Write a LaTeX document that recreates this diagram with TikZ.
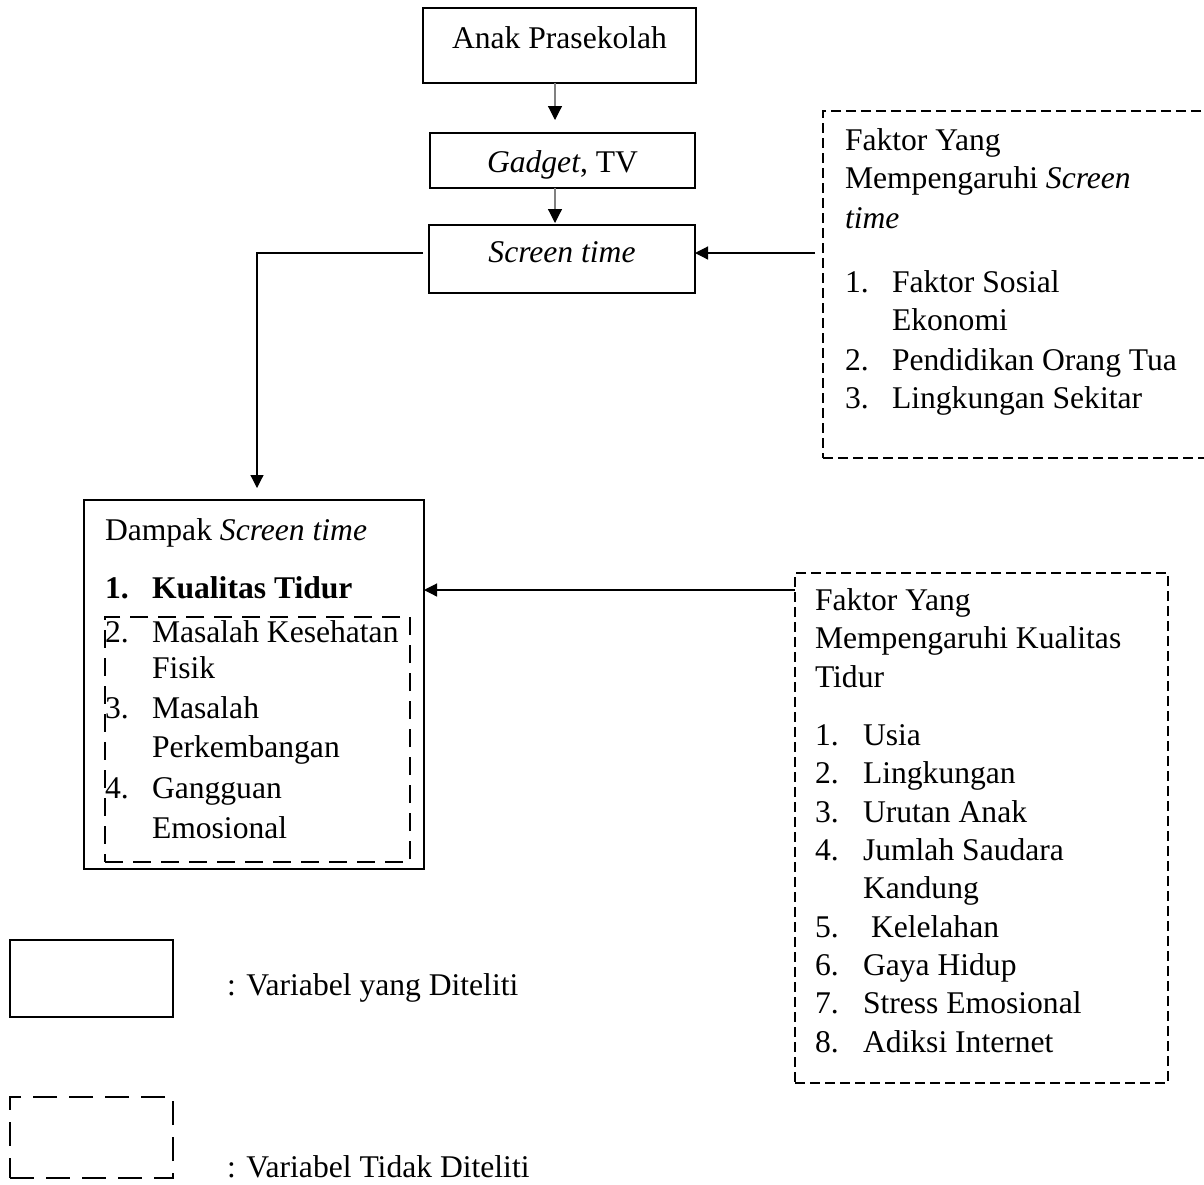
\documentclass[tikz,border=0pt]{standalone}
\usepackage{fontspec}
\setmainfont{Liberation Serif}
\usetikzlibrary{arrows.meta}
\begin{document}
\begin{tikzpicture}[x=0.5pt,y=-0.5pt,
  every node/.style={font=\fontsize{15.8pt}{19pt}\selectfont, inner sep=0pt, outer sep=0pt},
  solidbox/.style={draw=black, line width=0.75pt, rectangle},
  thindash/.style={draw=black, line width=0.55pt, dash pattern=on 5pt off 2.5pt, rectangle},
  thickdash/.style={draw=black, line width=1.25pt, dash pattern=on 9pt off 5pt, rectangle},
  legdash/.style={draw=black, line width=1.1pt, dash pattern=on 12pt off 6pt, rectangle},
  txt/.style={anchor=base west},
  ctxt/.style={anchor=base},
  tip/.style={-{Triangle[length=7pt,width=7pt]}},
  grayarrow/.style={draw=gray, line width=0.6pt, -{Triangle[length=7pt,width=7pt,fill=black,color=black]}},
  blackarrow/.style={draw=black, line width=0.6pt, -{Triangle[length=6.5pt,width=6.5pt]}}
]
\useasboundingbox (0,0) rectangle (1204,1184);

% boxes
\node[solidbox, minimum width=136.5pt, minimum height=37.5pt] (anak) at (559.5,45.5) {};
\node[solidbox, minimum width=132.5pt, minimum height=27.5pt] (gadget) at (562.5,160.5) {};
\node[solidbox, minimum width=133pt, minimum height=34pt] (screen) at (562,259) {};
\node[thindash, minimum width=191.5pt, minimum height=173.5pt] (f1) at (1014.5,284.5) {};
\node[solidbox, minimum width=170pt, minimum height=184.5pt] (dampak) at (254,684.5) {};
\node[thickdash, minimum width=152.5pt, minimum height=122.5pt] (inner) at (257.5,739.5) {};
\node[thindash, minimum width=186.5pt, minimum height=255pt] (f2) at (981.5,828) {};
\node[solidbox, line width=1pt, minimum width=81.5pt, minimum height=38.5pt] (leg1) at (91.5,978.5) {};
\node[legdash, minimum width=81.5pt, minimum height=40.5pt] (leg2) at (91.5,1137.5) {};

% texts in top boxes
\node[ctxt] (tanak) at (559.5,48) {Anak Prasekolah};
\node[ctxt] (tgadget) at (562.5,172) {\textit{Gadget}, TV};
\node[ctxt] (tscreen) at (562,262) {\textit{Screen time}};

% faktor screen time
\node[txt] (a1) at (845,150) {Faktor Yang};
\node[txt] (a2) at (845,188) {Mempengaruhi \textit{Screen}};
\node[txt] (a3) at (845,228) {\textit{time}};
\node[txt] (a4n) at (845,292) {1.};
\node[txt] (a4) at (892,292) {Faktor Sosial};
\node[txt] (a5) at (892,330) {Ekonomi};
\node[txt] (a6n) at (845,370) {2.};
\node[txt] (a6) at (892,370) {Pendidikan Orang Tua};
\node[txt] (a7n) at (845,408) {3.};
\node[txt] (a7) at (892,408) {Lingkungan Sekitar};

% dampak
\node[txt] (d1) at (105,540) {Dampak \textit{Screen time}};
\node[txt] (d2n) at (105,598) {\textbf{1.}};
\node[txt] (d2) at (152,598) {\textbf{Kualitas Tidur}};
\node[txt] (d3n) at (105,642) {2.};
\node[txt] (d3) at (152,642) {Masalah Kesehatan};
\node[txt] (d4) at (152,678) {Fisik};
\node[txt] (d5n) at (105,718) {3.};
\node[txt] (d5) at (152,718) {Masalah};
\node[txt] (d6) at (152,757) {Perkembangan};
\node[txt] (d7n) at (105,798) {4.};
\node[txt] (d7) at (152,798) {Gangguan};
\node[txt] (d8) at (152,838) {Emosional};

% faktor kualitas tidur
\node[txt] (b1) at (815,610) {Faktor Yang};
\node[txt] (b2) at (815,648) {Mempengaruhi Kualitas};
\node[txt] (b3) at (815,687) {Tidur};
\node[txt] (b4n) at (815,745) {1.};
\node[txt] (b4) at (863,745) {Usia};
\node[txt] (b5n) at (815,783) {2.};
\node[txt] (b5) at (863,783) {Lingkungan};
\node[txt] (b6n) at (815,822) {3.};
\node[txt] (b6) at (863,822) {Urutan Anak};
\node[txt] (b7n) at (815,860) {4.};
\node[txt] (b7) at (863,860) {Jumlah Saudara};
\node[txt] (b8) at (863,898) {Kandung};
\node[txt] (b9n) at (815,937) {5.};
\node[txt] (b9) at (871,937) {Kelelahan};
\node[txt] (b10n) at (815,975) {6.};
\node[txt] (b10) at (863,975) {Gaya Hidup};
\node[txt] (b11n) at (815,1013) {7.};
\node[txt] (b11) at (863,1013) {Stress Emosional};
\node[txt] (b12n) at (815,1052) {8.};
\node[txt] (b12) at (863,1052) {Adiksi Internet};

% legend
\node[txt] (l1) at (227,995) {: Variabel yang Diteliti};
\node[txt] (l2) at (227,1177) {: Variabel Tidak Diteliti};

% connectors
\coordinate (xa) at (555,0);
\coordinate (ya) at (0,253);
\coordinate (yb) at (0,590);
\coordinate (xc) at (257,0);
\draw[grayarrow, shorten >=6.5pt] (anak.south -| xa) -- (gadget.north -| xa);
\draw[grayarrow, shorten >=1pt] (gadget.south -| xa) -- (screen.north -| xa);
\draw[blackarrow, shorten <=4pt] (f1.west |- ya) -- (screen.east |- ya);
\draw[blackarrow, shorten <=3pt, shorten >=6pt] (screen.west |- ya) -| (dampak.north -| xc);
\draw[blackarrow] (f2.west |- yb) -- (dampak.east |- yb);
\end{tikzpicture}
\end{document}
